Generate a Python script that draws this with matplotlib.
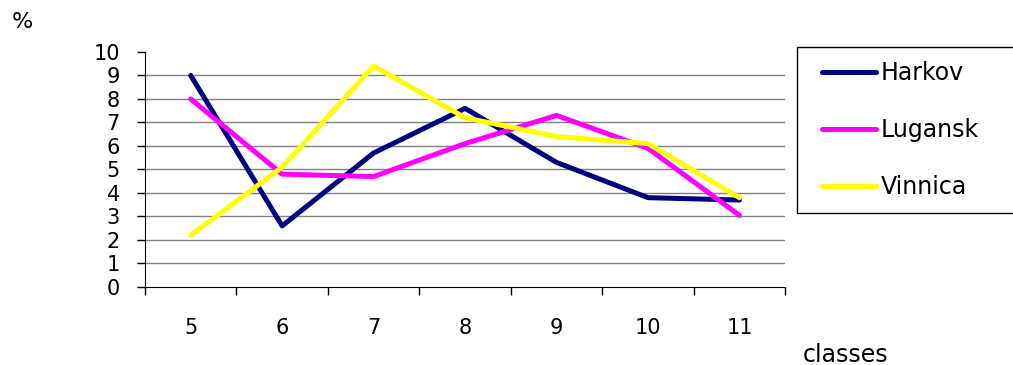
import numpy as np
import matplotlib
matplotlib.use("Agg")
import matplotlib.pyplot as plt
from matplotlib.patches import Rectangle

classes = ["5", "6", "7", "8", "9", "10", "11"]
harkov = [9.0, 2.6, 5.7, 7.6, 5.3, 3.8, 3.7]
lugansk = [8.0, 4.8, 4.7, 6.1, 7.3, 5.9, 3.05]
vinnica = [2.2, 5.1, 9.4, 7.2, 6.4, 6.1, 3.8]

plt.rcParams['font.family'] = ['DejaVu Sans']

fig = plt.figure(figsize=(10.13, 3.65), dpi=100)
ax = fig.add_axes([0.1431, 0.2137, 0.632, 0.644])

x = np.arange(len(classes))
ax.plot(x, harkov, color='#000080', lw=3.6, label='Harkov', solid_capstyle='round')
ax.plot(x, lugansk, color='#FF00FF', lw=3.6, label='Lugansk', solid_capstyle='round')
ax.plot(x, vinnica, color='#FFFF00', lw=3.6, label='Vinnica', solid_capstyle='round')

ax.set_xlim(-0.5, len(classes) - 0.5)
ax.set_ylim(0, 10)

# gridlines 1..9
for v in range(1, 10):
    ax.axhline(v, color='#808080', lw=1, zorder=0)

ax.set_yticks(range(0, 11))
ax.tick_params(axis='y', direction='out', length=6, width=1, labelsize=15, pad=12)

ax.set_xticks(np.arange(-0.5, len(classes), 1.0))
ax.set_xticklabels([])
ax.set_xticks(x, minor=True)
ax.set_xticklabels(classes, minor=True)
ax.tick_params(axis='x', which='major', direction='out', length=6, width=1)
ax.tick_params(axis='x', which='minor', length=0, labelsize=15, pad=22)

for s in ['top', 'right']:
    ax.spines[s].set_visible(False)
ax.spines['left'].set_color('black')
ax.spines['bottom'].set_color('black')

fig.text(12 / 1013, 1 - 22 / 365, '%', fontsize=16, va='center', ha='left')
fig.text(803 / 1013, 1 - 355 / 365, 'classes', fontsize=17, va='center', ha='left')

fig.patches.append(Rectangle((797 / 1013, 1 - 213 / 365), 0.3, 166 / 365,
                             transform=fig.transFigure, fill=False,
                             edgecolor='black', lw=1))
fig.legend(loc='upper left', bbox_to_anchor=(822 / 1013, 1 - 61 / 365),
           frameon=False, fontsize=17, handlelength=2.3, handletextpad=0.17,
           labelspacing=1.4, borderaxespad=0, borderpad=0)

fig.savefig('out.png', dpi=100)
